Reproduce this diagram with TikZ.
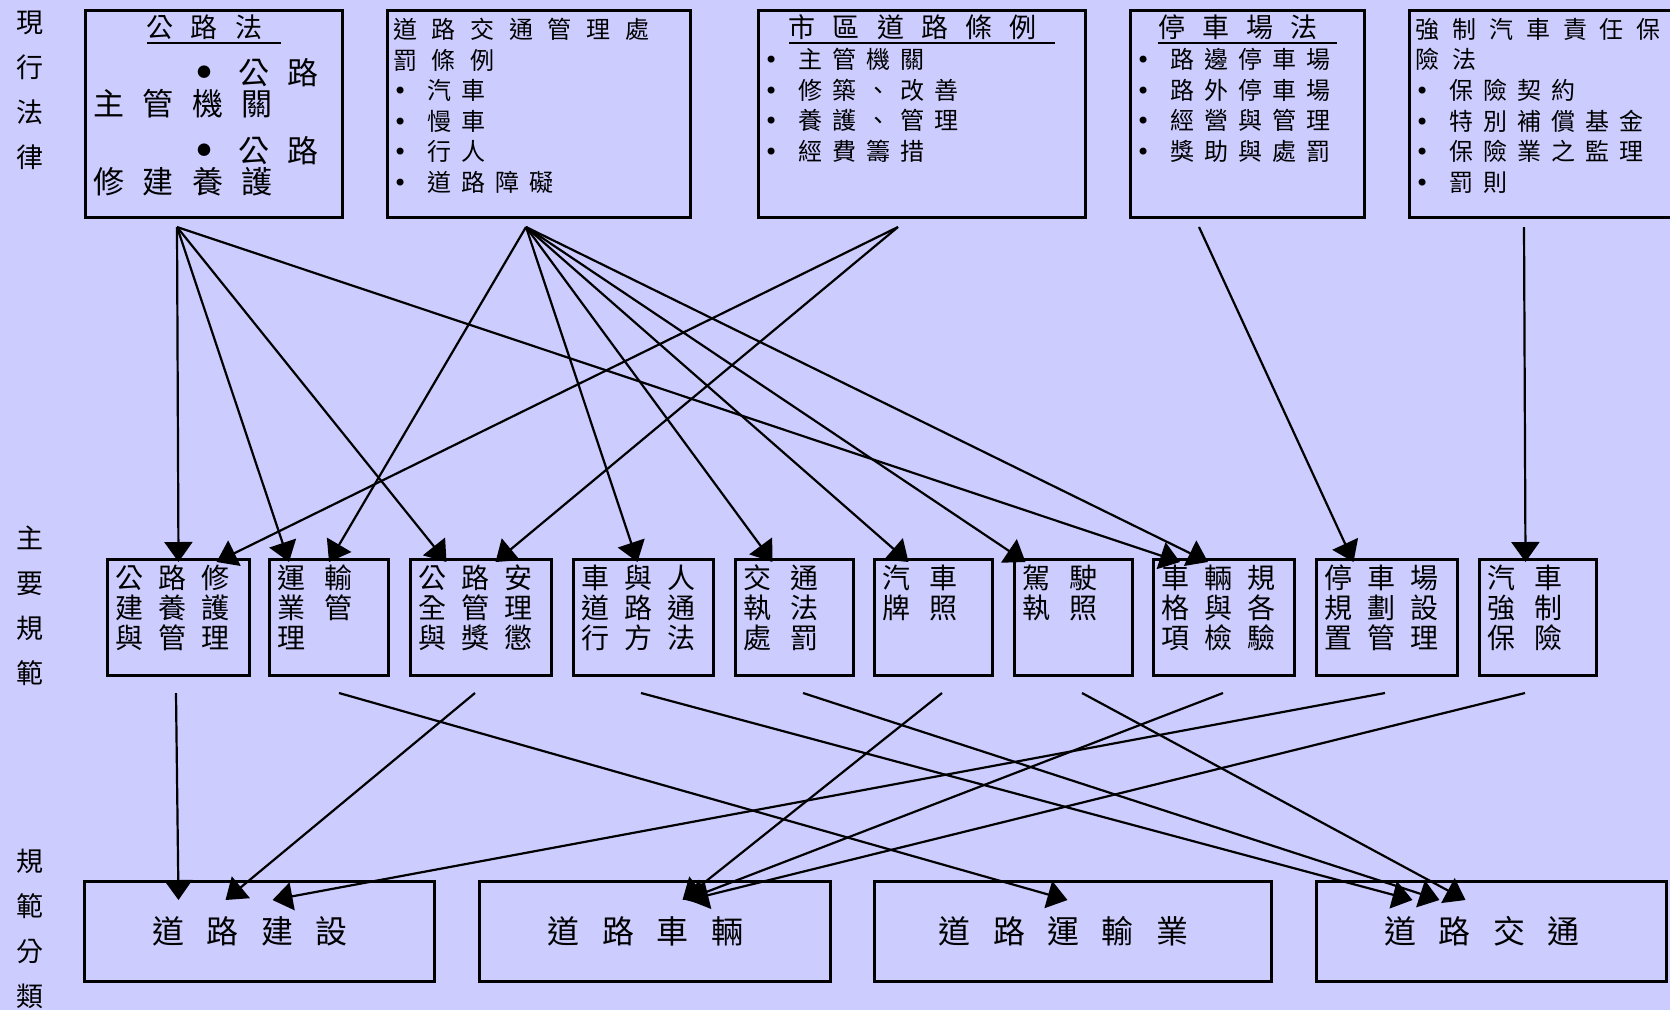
\documentclass[tikz,border=0pt]{standalone}
\usepackage{fontspec}
\setmainfont{Noto Sans CJK TC}
\newfontfamily\titlefont[LetterSpace=63]{Noto Sans CJK TC}
\newfontfamily\lawfont[LetterSpace=42]{Noto Sans CJK TC}
\newfontfamily\lawheadfont[LetterSpace=54]{Noto Sans CJK TC}
\newfontfamily\lawwidefont[LetterSpace=61]{Noto Sans CJK TC}
\newfontfamily\roadfont[LetterSpace=60]{Noto Sans CJK TC}
\newfontfamily\rulefont[LetterSpace=54]{Noto Sans CJK TC}
\newfontfamily\rulewidefont[LetterSpace=68]{Noto Sans CJK TC}
\newfontfamily\classfont[LetterSpace=70]{Noto Sans CJK TC}
\newfontfamily\dotfont{DejaVu Sans}
\usetikzlibrary{arrows.meta}
\definecolor{bgblue}{RGB}{204,204,255}
\newcommand{\lawitem}{\makebox[34pt][l]{\dotfont •}}
\newcommand{\roaditem}{\makebox[41pt][l]{\raisebox{7pt}{\fontsize{14}{14}\selectfont ●}}}

\begin{document}
\begin{tikzpicture}[x=1pt,y=-1pt,
  law box/.style={draw,line width=3pt,anchor=north west,minimum height=207pt,inner sep=0pt},
  law title/.style={inner sep=0pt,font=\titlefont\fontsize{27}{30}\selectfont,
    execute at end node={\hspace*{19pt}}},
  law text/.style={anchor=north west,align=left,inner sep=0pt,font=\lawfont\fontsize{24}{30.6}\selectfont},
  rule box/.style={draw,line width=3pt,anchor=north west,minimum height=116pt,inner sep=0pt},
  rule text/.style={anchor=north west,align=left,inner sep=0pt,font=\rulefont\fontsize{28}{30}\selectfont},
  rule wide/.style={rule text,font=\rulewidefont\fontsize{28}{30}\selectfont},
  class box/.style={draw,line width=3pt,anchor=north west,minimum height=100pt,inner sep=0pt,
    font=\classfont\fontsize{32}{36}\selectfont,execute at end node={\hspace*{19pt}}},
  side label/.style={align=center,inner sep=0pt,font=\fontsize{27}{45}\selectfont},
  law link/.style={line width=2.2pt,-{Triangle[length=20pt,width=28pt]}}]

  \fill[bgblue] (0,0) rectangle (1670,1010);
  \useasboundingbox (0,0) rectangle (1670,1010);

  % left column
  \node[side label] (h1) at (30,90) {現\\行\\法\\律};
  \node[side label] (h2) at (30,606) {主\\要\\規\\範};
  \node[side label] (h3) at (30,929) {規\\範\\分\\類};

  % laws
  \node[law box,minimum width=257pt] (l1) at (84,9) {};
  \node[law title] (l1t) at ([yshift=-18pt]l1.north) {公路法};
  \node[law text,font=\roadfont\fontsize{31}{31}\selectfont] (l1x) at ([shift={(9pt,-49pt)}]l1.north west)
    {\hspace*{104pt}\roaditem 公路\\主管機關\\[16pt]\hspace*{104pt}\roaditem 公路\\修建養護};

  \node[law box,minimum width=303pt] (l2) at (386,9) {};
  \node[law text] (l2x) at ([shift={(7pt,-9pt)}]l2.north west)
    {{\lawwidefont 道路交通管理處}\\{\lawwidefont 罰條例}\\\lawitem 汽車\\\lawitem 慢車\\\lawitem 行人\\\lawitem 道路障礙};

  \node[law box,minimum width=327pt] (l3) at (757,9) {};
  \node[law title] (l3t) at ([yshift=-18pt]l3.north) {市區道路條例};
  \node[law text] (l3x) at ([shift={(7pt,-39pt)}]l3.north west)
    {\lawitem 主管機關\\\lawitem 修築、改善\\\lawitem 養護、管理\\\lawitem 經費籌措};

  \node[law box,minimum width=234pt] (l4) at (1129,9) {};
  \node[law title] (l4t) at ([yshift=-18pt]l4.north) {停車場法};
  \node[law text] (l4x) at ([shift={(7pt,-39pt)}]l4.north west)
    {\lawitem 路邊停車場\\\lawitem 路外停車場\\\lawitem 經營與管理\\\lawitem 獎助與處罰};

  \node[law box,minimum width=290pt] (l5) at (1408,9) {};
  \node[law text] (l5x) at ([shift={(7pt,-9pt)}]l5.north west)
    {{\lawheadfont 強制汽車責任保}\\{\lawheadfont 險法}\\\lawitem 保險契約\\\lawitem 特別補償基金\\\lawitem 保險業之監理\\\lawitem 罰則};

  \draw[line width=2pt] ([yshift=-3pt]l1t.south west) -- ([yshift=-3pt]l1t.south east);
  \draw[line width=2pt] ([yshift=-3pt]l3t.south west) -- ([yshift=-3pt]l3t.south east);
  \draw[line width=2pt] ([yshift=-3pt]l4t.south west) -- ([yshift=-3pt]l4t.south east);

  % main rules
  \node[rule box,minimum width=142pt] (r1) at (106,558) {};
  \node[rule text] (r1x) at ([shift={(9pt,-7pt)}]r1.north west) {公路修\\建養護\\與管理};
  \node[rule box,minimum width=119pt] (r2) at (268,558) {};
  \node[rule wide] (r2x) at ([shift={(9pt,-7pt)}]r2.north west) {運輸\\業管\\理};
  \node[rule box,minimum width=141pt] (r3) at (409,558) {};
  \node[rule text] (r3x) at ([shift={(9pt,-7pt)}]r3.north west) {公路安\\全管理\\與獎懲};
  \node[rule box,minimum width=140pt] (r4) at (572,558) {};
  \node[rule text] (r4x) at ([shift={(9pt,-7pt)}]r4.north west) {車與人\\道路通\\行方法};
  \node[rule box,minimum width=118pt] (r5) at (734,558) {};
  \node[rule wide] (r5x) at ([shift={(9pt,-7pt)}]r5.north west) {交通\\執法\\處罰};
  \node[rule box,minimum width=118pt] (r6) at (873,558) {};
  \node[rule wide] (r6x) at ([shift={(9pt,-7pt)}]r6.north west) {汽車\\牌照};
  \node[rule box,minimum width=118pt] (r7) at (1013,558) {};
  \node[rule wide] (r7x) at ([shift={(9pt,-7pt)}]r7.north west) {駕駛\\執照};
  \node[rule box,minimum width=141pt] (r8) at (1152,558) {};
  \node[rule text] (r8x) at ([shift={(9pt,-7pt)}]r8.north west) {車輛規\\格與各\\項檢驗};
  \node[rule box,minimum width=141pt] (r9) at (1315,558) {};
  \node[rule text] (r9x) at ([shift={(9pt,-7pt)}]r9.north west) {停車場\\規劃設\\置管理};
  \node[rule box,minimum width=117pt] (r10) at (1478,558) {};
  \node[rule wide] (r10x) at ([shift={(9pt,-7pt)}]r10.north west) {汽車\\強制\\保險};

  % classes
  \node[class box,minimum width=350pt] (c1) at (83,880) {道路建設};
  \node[class box,minimum width=351pt] (c2) at (478,880) {道路車輛};
  \node[class box,minimum width=397pt] (c3) at (873,880) {道路運輸業};
  \node[class box,minimum width=350pt] (c4) at (1315,880) {道路交通};

  \coordinate (s1) at (177,227);
  \coordinate (s2) at (526,227);
  \coordinate (s3) at (898,227);
  \coordinate (s4) at (1199,227);
  \coordinate (s5) at (1524,227);

  \coordinate (o1) at (176,693);
  \coordinate (o2) at (339,693);
  \coordinate (o3) at (475,693);
  \coordinate (o4) at (641,693);
  \coordinate (o5) at (803,693);
  \coordinate (o6) at (942,693);
  \coordinate (o7) at (1082,693);
  \coordinate (o8) at (1223,693);
  \coordinate (o9) at (1385,693);
  \coordinate (o10) at (1525,693);

  \path[law link]
    (s1) edge ([yshift=-4pt]r1.north)
         edge ([xshift=-40pt,yshift=-4pt]r2.north)
         edge ([xshift=-34.5pt,yshift=-4pt]r3.north)
         edge ([xshift=-44pt,yshift=-4pt]r8.north)
    (s2) edge ([yshift=-4pt]r2.north)
         edge ([xshift=-6pt,yshift=-4pt]r4.north)
         edge ([xshift=-22pt,yshift=-4pt]r5.north)
         edge ([xshift=-25pt,yshift=-4pt]r6.north)
         edge ([xshift=-48pt,yshift=-4pt]r7.north)
         edge ([xshift=-16pt,yshift=-4pt]r8.north)
    (s3) edge ([xshift=38pt,yshift=-4pt]r1.north)
         edge ([xshift=14.5pt,yshift=-4pt]r3.north)
    (s4) edge ([xshift=-33.5pt,yshift=-4pt]r9.north)
    (s5) edge ([xshift=-12.5pt,yshift=-4pt]r10.north);

  \path[law link]
    (o1) edge ([xshift=-81pt,yshift=-20pt]c1.north)
    (o2) edge ([xshift=-5.5pt,yshift=-20pt]c3.north)
    (o3) edge ([xshift=-34pt,yshift=-20pt]c1.north)
    (o4) edge ([xshift=-79pt,yshift=-20pt]c4.north)
    (o5) edge ([xshift=-52pt,yshift=-20pt]c4.north)
    (o6) edge ([xshift=27.5pt,yshift=-20pt]c2.north)
    (o7) edge ([xshift=-26pt,yshift=-20pt]c4.north)
    (o8) edge ([xshift=30.5pt,yshift=-20pt]c2.north)
    (o9) edge ([xshift=13pt,yshift=-20pt]c1.north)
    (o10) edge ([xshift=33.5pt,yshift=-20pt]c2.north);

\end{tikzpicture}
\end{document}
